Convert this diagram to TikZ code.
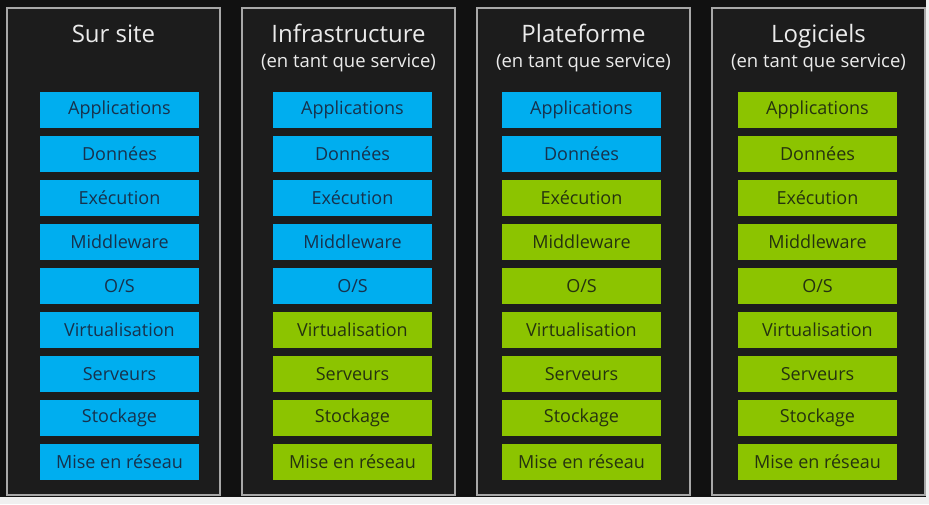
\documentclass[tikz,border=0pt]{standalone}
\usepackage{fontspec}
\setmainfont{Open Sans}
\definecolor{fond}{HTML}{111111}
\definecolor{panfond}{HTML}{1C1C1C}
\definecolor{panbord}{HTML}{A8A8A8}
\definecolor{azur}{HTML}{00AEEF}
\definecolor{citron}{HTML}{8CC400}
\definecolor{encreazur}{HTML}{17324D}
\definecolor{encrecitron}{HTML}{25330F}
\tikzset{
  panneau/.style={draw=panbord, line width=1.5pt, fill=panfond, minimum width=213pt, minimum height=487pt, inner sep=0pt},
  titre/.style={text=white!92!black, font=\fontsize{24}{28}\selectfont, anchor=base},
  soustitre/.style={text=white!92!black, font=\fontsize{18.5}{22}\selectfont, anchor=base},
  couche/.style={minimum width=159pt, minimum height=36pt, inner sep=0pt, font=\fontsize{18}{21}\selectfont},
  bleu/.style={couche, fill=azur, text=encreazur},
  vert/.style={couche, fill=citron, text=encrecitron}
}
\begin{document}
\begin{tikzpicture}[x=1pt,y=-1pt]
	\useasboundingbox (0,0) rectangle (929,504);
	\fill[white!94!black] (0,0) rectangle (929,504);
	\fill[fond] (0,0) rectangle (926,497);
	% colonnes : numero / bord gauche / bord gauche des couches / nombre de couches bleues
	\foreach \c/\px/\bx/\nb in {1/7/40/9, 2/242/273/5, 3/477/502/2, 4/712/738/0}{
		\node[panneau] (pan\c) at (\px+106.5,251.5) {};
		\foreach \nom [count=\i from 0] in {Applications,Données,Exécution,Middleware,O/S,Virtualisation,Serveurs,Stockage,Mise en réseau}{
			\ifnum\i<\nb \def\genre{bleu}\else \def\genre{vert}\fi
			\node[\genre] (c\c-\i) at (\bx+79.5,110+44*\i) {\nom};
		}
	}
	\node[titre] (t1) at (113.5,42) {Sur site};
	\node[titre] (t2) at (348.5,42) {Infrastructure};
	\node[titre] (t3) at (583.5,42) {Plateforme};
	\node[titre] (t4) at (818.5,42) {Logiciels};
	\foreach \c/\x in {2/348.5, 3/583.5, 4/818.5}
		\node[soustitre] (s\c) at (\x,67.5) {(en tant que service)};
\end{tikzpicture}
\end{document}
